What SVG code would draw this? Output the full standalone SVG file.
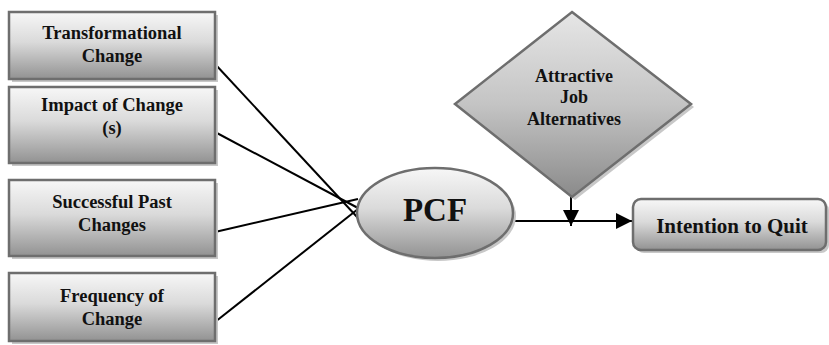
<svg xmlns="http://www.w3.org/2000/svg" width="829" height="345" viewBox="0 0 829 345">
<defs>
<linearGradient id="gBox" x1="0" y1="0" x2="0" y2="1">
<stop offset="0" stop-color="#f7f7f7"/>
<stop offset="0.45" stop-color="#dadada"/>
<stop offset="1" stop-color="#929292"/>
</linearGradient>
<linearGradient id="gDia" x1="0" y1="0" x2="0" y2="1">
<stop offset="0" stop-color="#e6e6e6"/>
<stop offset="0.5" stop-color="#c4c4c4"/>
<stop offset="1" stop-color="#8a8a8a"/>
</linearGradient>
<marker id="arrBig" viewBox="0 0 16 16" markerWidth="16" markerHeight="16" refX="16" refY="8" orient="auto" markerUnits="userSpaceOnUse">
<path d="M0,0 L16,8 L0,16 Z" fill="#000"/>
</marker>
</defs>
<style>
.shadow{fill:#c8c8c8;stroke:none}
.box{fill:url(#gBox);stroke:#6e6e6e;stroke-width:2.5}
.dia{fill:url(#gDia);stroke:#6e6e6e;stroke-width:2.5}
.t{font-family:"Liberation Serif","Times New Roman",serif;font-weight:bold;font-size:18.5px;fill:#111;text-anchor:middle}
.conn{stroke:#000;stroke-width:2;fill:none}
</style>
<g id="connectors">
<line class="conn" x1="215" y1="64" x2="358" y2="218"/>
<line class="conn" x1="215" y1="132" x2="358" y2="208"/>
<line class="conn" x1="215" y1="232" x2="358" y2="199"/>
<line class="conn" x1="215" y1="322" x2="358" y2="209"/>
<line class="conn" x1="513" y1="221" x2="632" y2="221" marker-end="url(#arrBig)"/>
<line class="conn" x1="571" y1="197" x2="571" y2="226" marker-end="url(#arrBig)"/>
</g>
<g id="node-transformational">
<rect class="shadow" x="12" y="15" width="206" height="67"/>
<rect class="box" x="9" y="12" width="206" height="67"/>
<text class="t" x="112" y="39">Transformational</text>
<text class="t" x="112" y="62">Change</text>
</g>
<g id="node-impact">
<rect class="shadow" x="12" y="90" width="206" height="76"/>
<rect class="box" x="9" y="87" width="206" height="76"/>
<text class="t" x="112" y="111">Impact of Change</text>
<text class="t" x="112" y="134">(s)</text>
</g>
<g id="node-successful">
<rect class="shadow" x="12" y="183" width="206" height="76"/>
<rect class="box" x="9" y="180" width="206" height="76"/>
<text class="t" x="112" y="208">Successful Past</text>
<text class="t" x="112" y="231">Changes</text>
</g>
<g id="node-frequency">
<rect class="shadow" x="12" y="276" width="206" height="68"/>
<rect class="box" x="9" y="273" width="206" height="68"/>
<text class="t" x="112" y="302">Frequency of</text>
<text class="t" x="112" y="325">Change</text>
</g>
<g id="node-pcf">
<ellipse class="shadow" cx="438" cy="216" rx="78" ry="45"/>
<ellipse class="box" cx="435" cy="213" rx="78" ry="45"/>
<text class="t" x="435" y="221" style="font-size:33px">PCF</text>
</g>
<g id="node-attractive">
<polygon class="shadow" points="575,15 694,107 575,200 458,107"/>
<polygon class="dia" points="572,12 691,104 572,197 455,104"/>
<text class="t" x="574" y="82" style="font-size:18px">Attractive</text>
<text class="t" x="574" y="103" style="font-size:18px">Job</text>
<text class="t" x="574" y="125" style="font-size:18px">Alternatives</text>
</g>
<g id="node-intention">
<rect class="shadow" x="636" y="202" width="193" height="51" rx="8"/>
<rect class="box" x="633" y="199" width="193" height="51" rx="8"/>
<text class="t" x="732" y="233" style="font-size:21px">Intention to Quit</text>
</g>
</svg>
